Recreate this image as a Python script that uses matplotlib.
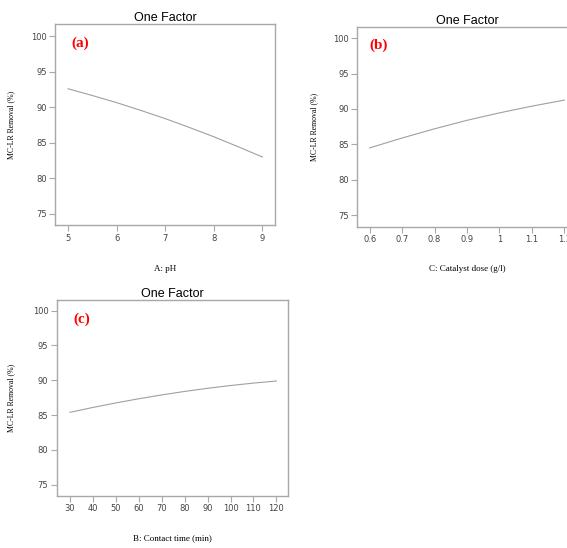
import matplotlib
matplotlib.use("Agg")
import matplotlib.pyplot as plt

# ---- data ----
ph_x = [5, 5.5, 6, 6.5, 7, 7.5, 8, 8.5, 9]
ph_y = [92.6, 91.65, 90.65, 89.55, 88.4, 87.15, 85.85, 84.45, 83.0]

dose_x = [0.6, 0.7, 0.8, 0.9, 1.0, 1.1, 1.2]
dose_y = [84.5, 85.9, 87.2, 88.4, 89.45, 90.4, 91.25]

time_x = [30, 40, 50, 60, 70, 80, 90, 100, 110, 120]
time_y = [85.4, 86.1, 86.75, 87.35, 87.9, 88.4, 88.85, 89.25, 89.6, 89.9]

y_ticks = [75, 80, 85, 90, 95, 100]
ph_ticks = [5, 6, 7, 8, 9]
dose_ticks = [0.6, 0.7, 0.8, 0.9, 1.0, 1.1, 1.2]
dose_labels = ["0.6", "0.7", "0.8", "0.9", "1", "1.1", "1.2"]
time_ticks = [30, 40, 50, 60, 70, 80, 90, 100, 110, 120]

title = "One Factor"
ylabel = "MC-LR Removal (%)"

fig = plt.figure(figsize=(5.67, 5.48), dpi=100)

spine_col = "#a8a8a8"
line_col = "#a0a0a0"


def style(ax, xticks, xlabels, xlim, ylim, xlabel, tag, ylab_x, xlab_y, tagpos):
    for s in ax.spines.values():
        s.set_color(spine_col)
        s.set_linewidth(1.0)
    ax.set_xlim(*xlim)
    ax.set_ylim(*ylim)
    ax.set_xticks(xticks)
    ax.set_xticklabels(xlabels)
    ax.set_yticks(y_ticks)
    ax.tick_params(axis="both", colors=spine_col, labelcolor="#444444",
                   labelsize=6, length=4, width=0.8, direction="out", pad=2)
    ax.set_title(title, fontsize=9, family="Liberation Sans", pad=2)
    ax.set_ylabel(ylabel, family="Liberation Serif", fontsize=5.6)
    ax.set_xlabel(xlabel, family="Liberation Serif", fontsize=6.5)
    ax.yaxis.set_label_coords(ylab_x, 0.5)
    ax.xaxis.set_label_coords(0.5, xlab_y)
    ax.text(tagpos[0], tagpos[1], tag, transform=ax.transAxes, color="red",
            fontsize=11, fontweight="bold", family="Liberation Serif",
            ha="center", va="center")


ax1 = fig.add_axes([0.097, 0.589, 0.388, 0.367])
ax1.plot(ph_x, ph_y, color=line_col, lw=0.8)
style(ax1, ph_ticks, [str(v) for v in ph_ticks], (4.73, 9.26), (73.4, 101.7),
      "A: pH", "(a)", -0.18, -0.2, (0.114, 0.905))

ax2 = fig.add_axes([0.6296, 0.586, 0.388, 0.365])
ax2.plot(dose_x, dose_y, color=line_col, lw=0.8)
style(ax2, dose_ticks, dose_labels, (0.561, 1.239), (73.35, 101.6),
      "C: Catalyst dose (g/l)", "(b)", -0.177, -0.19, (0.1, 0.908))

ax3 = fig.add_axes([0.1, 0.0949, 0.4085, 0.3577])
ax3.plot(time_x, time_y, color=line_col, lw=0.8)
style(ax3, time_ticks, [str(v) for v in time_ticks], (24.2, 125.2), (73.38, 101.54),
      "B: Contact time (min)", "(c)", -0.18, -0.194, (0.108, 0.90))

fig.savefig("out.png", dpi=100)
